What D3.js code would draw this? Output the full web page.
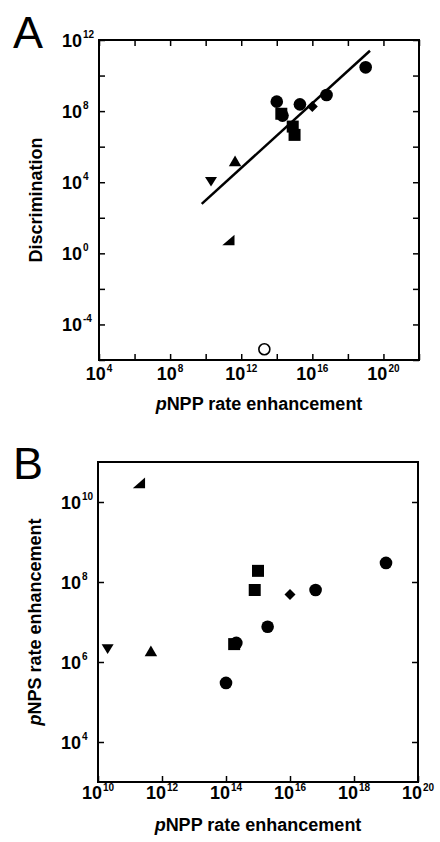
<!DOCTYPE html>
<html>
<head>
<meta charset="utf-8">
<script src="https://cdn.jsdelivr.net/npm/d3@7"></script>
<style>
    body { margin: 0; background: #fff; }
    svg { display: block; font-family: "Liberation Sans", Arial, Helvetica, sans-serif; }
    .tick line { stroke: #000; stroke-width: 1.5; }
    .domain { display: none; }
</style>
</head>
<body>
<div class="figure"></div>
<script>
// one entry per enzyme point, same order in every array
const shapes = ["circle", "circle", "diamond", "circle", "circle", "square", "circle",
    "square", "square", "triUp", "triDown", "halfTri", "open"];

// pNPP rate enhancement (x axis of both panels)
const pnpp = [1.0e19, 6.3e16, 1.0e16, 2.0e15, 1.0e14, 1.8e14, 2.1e14,
    7.9e14, 1.0e15, 4.5e11, 2.0e10, 1.9e11, 2.0e13];

// panel A: discrimination
const discrimination = [2.9e10, 8.1e8, 1.8e8, 2.4e8, 3.4e8, 7.1e7, 5.6e7,
    1.35e7, 4.6e6, 1.6e5, 1.07e4, 5.6e0, 4.0e-6];

// panel B: pNPS rate enhancement (open circle not shown)
const pnps = [3.0e8, 6.3e7, 4.9e7, 7.6e6, 3.0e5, 2.8e6, 3.0e6,
    6.3e7, 1.9e8, 1.9e6, 2.1e6, 3.0e10, null];

// fitted line in panel A (end points)
const fitX = [6.0e9, 1.75e19];
const fitY = [6.0e2, 2.5e11];

// axis ranges and tick exponents
const xDomainA = [1e4, 1e22], yDomainA = [1e-6, 1e12];
const xTicksA = [4, 6, 8, 10, 12, 14, 16, 18, 20, 22];
const xLabelsA = [4, 8, 12, 16, 20];
const yTicksA = [-6, -4, -2, 0, 2, 4, 6, 8, 10, 12];
const yLabelsA = [-4, 0, 4, 8, 12];

const xDomainB = [1e10, 1e20], yDomainB = [1e3, 1e11];
const xTicksB = [10, 12, 14, 16, 18, 20];
const xLabelsB = [10, 12, 14, 16, 18, 20];
const yTicksB = [4, 6, 8, 10];
const yLabelsB = [4, 6, 8, 10];

// custom marker shapes, size = width squared
const triUp = {
    draw(ctx, size) {
        const w = Math.sqrt(size), h = w * 0.87;
        ctx.moveTo(0, -h / 2);
        ctx.lineTo(w / 2, h / 2);
        ctx.lineTo(-w / 2, h / 2);
        ctx.closePath();
    }
};
const triDown = {
    draw(ctx, size) {
        const w = Math.sqrt(size), h = w * 0.8;
        ctx.moveTo(0, h / 2);
        ctx.lineTo(w / 2, -h / 2);
        ctx.lineTo(-w / 2, -h / 2);
        ctx.closePath();
    }
};
const halfTri = {
    draw(ctx, size) {
        const w = Math.sqrt(size), h = w * 0.87;
        ctx.moveTo(w / 2, -h / 2);
        ctx.lineTo(w / 2, h / 2);
        ctx.lineTo(-w / 2, h / 2);
        ctx.closePath();
    }
};
const diamond = {
    draw(ctx, size) {
        const r = Math.sqrt(size) / 2;
        ctx.moveTo(0, -r);
        ctx.lineTo(r, 0);
        ctx.lineTo(0, r);
        ctx.lineTo(-r, 0);
        ctx.closePath();
    }
};

const symbolTypes = {
    circle: [d3.symbolCircle, 125],
    open: [d3.symbolCircle, 95],
    square: [d3.symbolSquare, 144],
    diamond: [diamond, 121],
    triUp: [triUp, 156],
    triDown: [triDown, 144],
    halfTri: [halfTri, 150]
};

const svg = d3.select(".figure")
    .append("svg")
    .attr("width", 440)
    .attr("height", 842);

svg.append("rect")
    .attr("width", 440)
    .attr("height", 842)
    .attr("fill", "#fff");

function Panel(opts) {
    const margin = opts.margin,
        width = 320,
        height = 320;

    const group = svg.append("g")
        .attr("transform", `translate(${margin.left},${margin.top})`);

    const xScale = d3.scaleLog().domain(opts.xDomain).range([0, width]);
    const yScale = d3.scaleLog().domain(opts.yDomain).range([height, 0]);

    // inward ticks on the frame sides
    const xv = opts.xTicks.map(e => Math.pow(10, e));
    const yv = opts.yTicks.map(e => Math.pow(10, e));

    group.append("g")
        .attr("transform", `translate(0,${height})`)
        .call(d3.axisBottom(xScale).tickValues(xv).tickSize(-6).tickFormat(""));
    if (opts.topTicks) {
        group.append("g")
            .call(d3.axisTop(xScale).tickValues(xv).tickSize(-6).tickFormat(""));
    }
    group.append("g")
        .call(d3.axisLeft(yScale).tickValues(yv).tickSize(-6).tickFormat(""));
    group.append("g")
        .attr("transform", `translate(${width},0)`)
        .call(d3.axisRight(yScale).tickValues(yv).tickSize(-6).tickFormat(""));

    group.selectAll(".tick text").remove();

    // frame
    group.append("rect")
        .attr("width", width)
        .attr("height", height)
        .attr("fill", "none")
        .attr("stroke", "#000")
        .attr("stroke-width", 2);

    // x tick labels: 10 with superscript
    const xl = group.selectAll(".xlab")
        .data(opts.xLabels)
        .enter()
        .append("text")
        .attr("class", "xlab")
        .attr("x", d => xScale(Math.pow(10, d)))
        .attr("y", height + opts.xLabelY)
        .attr("text-anchor", "middle")
        .attr("font-size", 18)
        .attr("font-weight", "bold");
    xl.append("tspan").text("10");
    xl.append("tspan")
        .attr("dx", 1)
        .attr("dy", -8.5)
        .attr("font-size", 10)
        .text(d => d);

    // y tick labels
    const yl = group.selectAll(".ylab")
        .data(opts.yLabels)
        .enter()
        .append("text")
        .attr("class", "ylab")
        .attr("x", -37)
        .attr("y", d => yScale(Math.pow(10, d)) + 6.5)
        .attr("font-size", 18)
        .attr("font-weight", "bold");
    yl.append("tspan").text("10");
    yl.append("tspan")
        .attr("dx", 1)
        .attr("dy", -8.5)
        .attr("font-size", 10)
        .text(d => d);

    // axis titles
    const xt = group.append("text")
        .attr("x", width / 2)
        .attr("y", height + opts.xTitleY)
        .attr("text-anchor", "middle")
        .attr("font-size", 18)
        .attr("font-weight", "bold");
    opts.xTitle.forEach(p => xt.append("tspan").attr("font-style", p[1] ? "italic" : "normal").text(p[0]));

    const yt = group.append("text")
        .attr("transform", `translate(${opts.yTitleX},${height / 2}) rotate(-90)`)
        .attr("text-anchor", "middle")
        .attr("font-size", 18)
        .attr("font-weight", "bold");
    opts.yTitle.forEach(p => yt.append("tspan").attr("font-style", p[1] ? "italic" : "normal").text(p[0]));

    // panel letter
    svg.append("text")
        .attr("x", opts.letterPos[0])
        .attr("y", opts.letterPos[1])
        .attr("font-size", 45)
        .text(opts.letter);

    return { group, xScale, yScale };
}

// ---- panel A ----
const A = Panel({
    margin: { left: 99, top: 40 },
    xDomain: xDomainA, yDomain: yDomainA,
    xTicks: xTicksA, yTicks: yTicksA,
    xLabels: xLabelsA, yLabels: yLabelsA,
    topTicks: true,
    xLabelY: 20, xTitleY: 50, yTitleX: -57,
    xTitle: [["p", true], ["NPP rate enhancement", false]],
    yTitle: [["Discrimination", false]],
    letter: "A", letterPos: [13, 48]
});

const line = d3.line()
    .x(d => A.xScale(d[0]))
    .y(d => A.yScale(d[1]));

A.group.append("path")
    .datum(d3.zip(fitX, fitY))
    .attr("d", line)
    .attr("fill", "none")
    .attr("stroke", "#000")
    .attr("stroke-width", 2.5);

const dataA = shapes.map((s, i) => ({ shape: s, x: pnpp[i], y: discrimination[i] }));
drawPoints(A, dataA);

// ---- panel B ----
const B = Panel({
    margin: { left: 98, top: 462 },
    xDomain: xDomainB, yDomain: yDomainB,
    xTicks: xTicksB, yTicks: yTicksB,
    xLabels: xLabelsB, yLabels: yLabelsB,
    topTicks: false,
    xLabelY: 17, xTitleY: 49, yTitleX: -57,
    xTitle: [["p", true], ["NPP rate enhancement", false]],
    yTitle: [["p", true], ["NPS rate enhancement", false]],
    letter: "B", letterPos: [13, 479]
});

const dataB = shapes.map((s, i) => ({ shape: s, x: pnpp[i], y: pnps[i] }))
    .filter(d => d.y !== null);
drawPoints(B, dataB);

function drawPoints(panel, data) {
    panel.group.selectAll(".pt")
        .data(data)
        .enter()
        .append("path")
        .attr("class", "pt")
        .attr("transform", d => `translate(${panel.xScale(d.x)},${panel.yScale(d.y)})`)
        .attr("d", d => d3.symbol().type(symbolTypes[d.shape][0]).size(symbolTypes[d.shape][1])())
        .attr("fill", d => d.shape === "open" ? "#fff" : "#000")
        .attr("stroke", "#000")
        .attr("stroke-width", d => d.shape === "open" ? 1.6 : 0);
}
</script>
</body>
</html>
